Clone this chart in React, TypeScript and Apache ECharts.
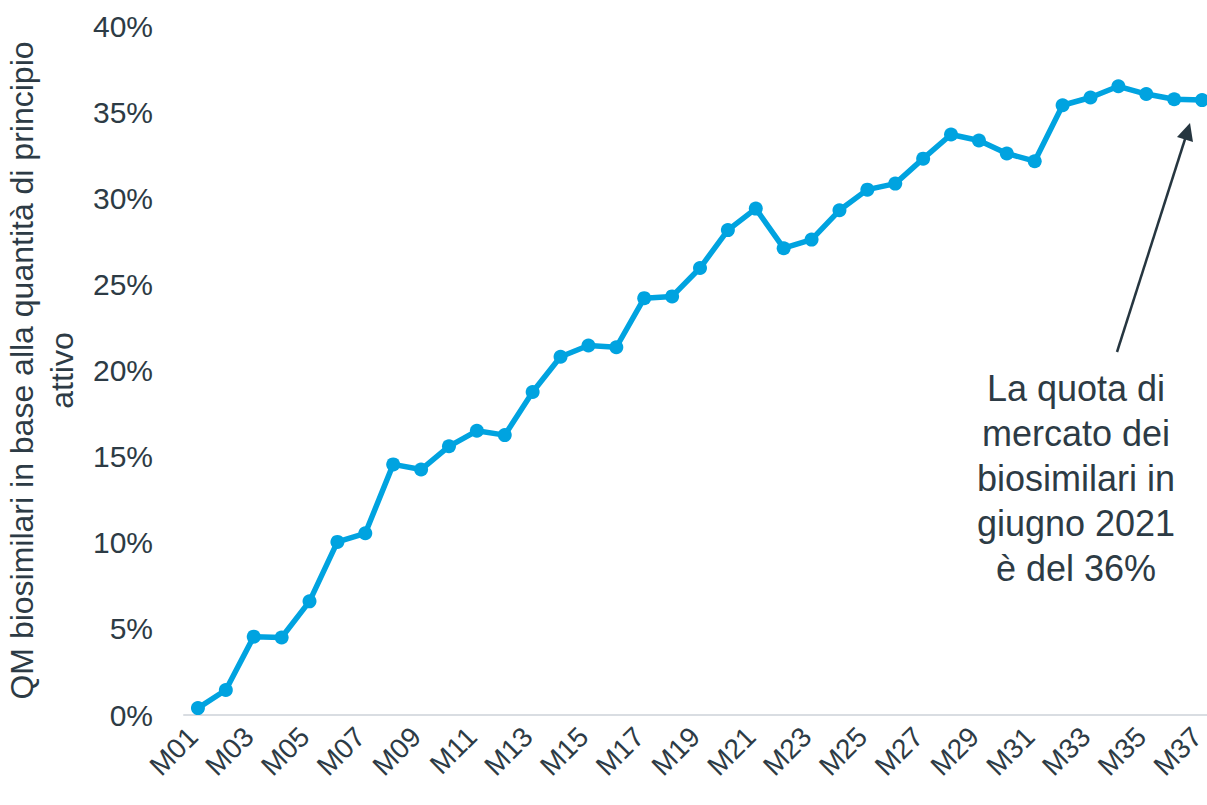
import React, { useEffect, useRef } from "react";
import * as echarts from "echarts";

const months: string[] = Array.from({ length: 37 }, (_, i) => "M" + String(i + 1).padStart(2, "0"));
const shareValues: number[] = [
  0.4, 1.45, 4.55, 4.5, 6.6, 10.05, 10.55, 14.55, 14.25, 15.6,
  16.5, 16.25, 18.75, 20.8, 21.45, 21.35, 24.2, 24.3, 25.95, 28.15,
  29.4, 27.1, 27.6, 29.3, 30.5, 30.85, 32.3, 33.7, 33.35, 32.6,
  32.15, 35.4, 35.85, 36.5, 36.05, 35.75, 35.7,
];
const yAxisTitle = "QM biosimilari in base alla quantità di principio\nattivo";
const annotationText = "La quota di\nmercato dei\nbiosimilari in\ngiugno 2021\nè del 36%";

const FONT = "'Liberation Sans', Arial, sans-serif";
const TEXT = "#2d3b45";
const BLUE = "#00a3e0";

export default function App() {
  const ref = useRef<HTMLDivElement>(null);
  useEffect(() => {
    document.body.style.margin = "0";
    const chart = echarts.init(ref.current!, null, { renderer: "svg" });
    chart.setOption({
      animation: false,
      textStyle: { fontFamily: FONT },
      grid: {
        left: 184,
        right: -9,
        top: 26,
        bottom: 90,
        containLabel: false,
        outerBoundsMode: "none",
      },
      xAxis: {
        type: "category",
        data: months,
        boundaryGap: true,
        axisLine: { lineStyle: { color: "#d9dde2", width: 2 } },
        axisTick: { show: false },
        axisLabel: {
          interval: 1,
          rotate: 45,
          color: TEXT,
          fontSize: 28,
          fontFamily: FONT,
          margin: 12,
          padding: [0, 7, 0, 0],
          hideOverlap: false,
        },
      },
      yAxis: {
        type: "value",
        min: 0,
        max: 40,
        interval: 5,
        name: yAxisTitle,
        nameLocation: "middle",
        nameRotate: 90,
        nameGap: 100,
        nameTextStyle: { color: TEXT, fontSize: 32, fontFamily: FONT, lineHeight: 40, align: "center" },
        axisLine: { show: false },
        axisTick: { show: false },
        splitLine: { show: false },
        axisLabel: { formatter: "{value}%", color: TEXT, fontSize: 30, fontFamily: FONT, margin: 31 },
      },
      series: [
        {
          type: "line",
          data: shareValues,
          symbol: "circle",
          symbolSize: 14,
          lineStyle: { color: BLUE, width: 5.5 },
          itemStyle: { color: BLUE },
          clip: false,
        },
      ],
      graphic: [
        {
          type: "line",
          shape: { x1: 1117, y1: 352, x2: 1186, y2: 136 },
          style: { stroke: "#263640", lineWidth: 2.5 },
        },
        {
          type: "polygon",
          shape: { points: [[1190, 123], [1177, 137], [1193, 142]] },
          style: { fill: "#263640" },
        },
        {
          type: "text",
          x: 1076,
          y: 478,
          style: {
            text: annotationText,
            font: "36px " + FONT,
            fill: TEXT,
            align: "center",
            verticalAlign: "middle",
            lineHeight: 45,
          },
        },
      ],
    });
    return () => chart.dispose();
  }, []);
  return <div ref={ref} style={{ width: 1207, height: 805 }} />;
}
